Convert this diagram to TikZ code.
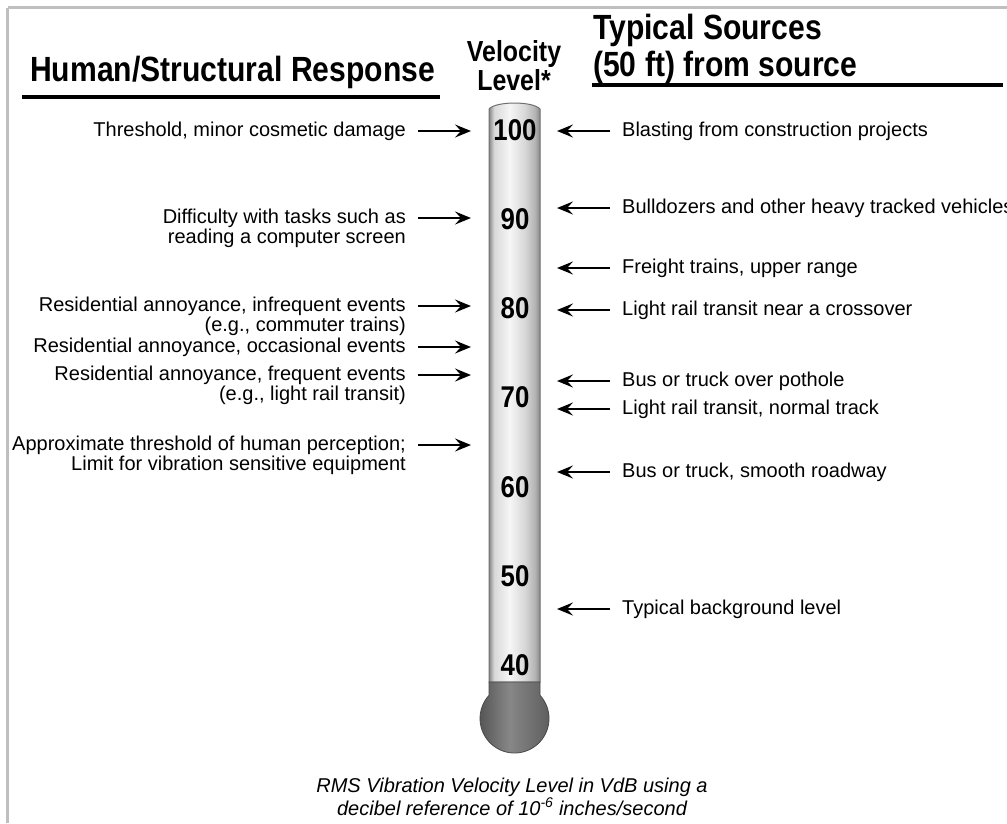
\documentclass[tikz,border=0pt]{standalone}
\usepackage{fontspec}
\setmainfont{Liberation Sans}
\newfontfamily\hdfont[FakeStretch=0.86]{Liberation Sans}
\usetikzlibrary{arrows.meta}
\definecolor{framegray}{HTML}{BFBFBF}
\definecolor{tubeedge}{HTML}{707070}
\definecolor{bulbedge}{HTML}{4A4A4A}
\definecolor{tA}{HTML}{888888}
\definecolor{tB}{HTML}{D8D8D8}
\definecolor{tC}{HTML}{F6F6F6}
\definecolor{tD}{HTML}{B4B4B4}
\definecolor{bA}{HTML}{505050}
\definecolor{bB}{HTML}{878787}
\definecolor{bC}{HTML}{5C5C5C}
\pgfdeclarehorizontalshading{tubeshade}{100bp}{color(0bp)=(tA); color(25bp)=(tA); color(30bp)=(tB); color(45bp)=(tC); color(60bp)=(tB); color(70bp)=(tD); color(75bp)=(tA); color(100bp)=(tA)}
\pgfdeclarehorizontalshading{bulbshade}{100bp}{color(0bp)=(bA); color(25bp)=(bA); color(47bp)=(bB); color(75bp)=(bC); color(100bp)=(bC)}
\begin{document}
\begin{tikzpicture}[x=1pt,y=-1pt,
  lft/.style={font=\fontsize{20}{20.5}\selectfont, align=right, anchor=base east, inner sep=0pt},
  rgt/.style={font=\fontsize{20}{20.5}\selectfont, align=left, anchor=base west, inner sep=0pt},
  arr/.style={line width=2pt, -{Stealth[length=16pt,width=13pt,inset=6pt]}},
  num/.style={font=\hdfont\bfseries\fontsize{30}{30}\selectfont, anchor=base, inner sep=0pt},
  hd/.style={font=\hdfont\bfseries\fontsize{35}{37}\selectfont, inner sep=0pt},
  vl/.style={font=\hdfont\bfseries\fontsize{29}{25}\selectfont, inner sep=0pt, align=center},
  uline/.style={line width=4.5pt},
  frame/.style={draw=framegray, line width=3.5pt},
]
\useasboundingbox (0,0) rectangle (1007,823);
% frame
\draw[frame] (7.5,7.5) -- (1007,7.5);
\draw[frame] (7.5,7.5) -- (7.5,823);

% headings (base anchor of a multi-line node = baseline of its last line)
\node[hd, anchor=base west] (hleft) at (30,81) {Human/Structural Response};
\node[hd, anchor=base west, align=left] (hright) at (593,76) {Typical Sources\\(50 ft) from source};
\node[vl, anchor=base] (vel) at (514,90) {Velocity\\Level*};
\coordinate (ul1) at (22,97);
\coordinate (ul2) at (440,97);
\coordinate (ur1) at (592,85);
\coordinate (ur2) at (1003,85);
\draw[uline] (ul1) -- (ul2);
\draw[uline] (ur1) -- (ur2);

% thermometer
\shadedraw[shading=tubeshade, draw=tubeedge, line width=1pt]
  (489,682) -- (489,109) .. controls (496,101) and (533,101) .. (540,109) -- (540,682) -- cycle;
\shadedraw[shading=bulbshade, draw=bulbedge, line width=0.8pt]
  (489,682) -- (489,695.3) arc[start angle=222.3, end angle=-42.3, radius=34.5] -- (540,682) -- cycle;

\node[num] (n100) at (515,140) {100};
\node[num] (n90) at (515,229) {90};
\node[num] (n80) at (515,318) {80};
\node[num] (n70) at (515,407.5) {70};
\node[num] (n60) at (515,497) {60};
\node[num] (n50) at (515,586) {50};
\node[num] (n40) at (515,675) {40};

% left labels
\node[lft] (l1) at (406,136) {Threshold, minor cosmetic damage};
\node[lft] (l2) at (406,243.5) {Difficulty with tasks such as\\reading a computer screen};
\node[lft] (l3) at (406,331.5) {Residential annoyance, infrequent events\\(e.g., commuter trains)};
\node[lft] (l4) at (406,352) {Residential annoyance, occasional events};
\node[lft] (l5) at (406,400.5) {Residential annoyance, frequent events\\(e.g., light rail transit)};
\node[lft] (l6) at (406,470.5) {Approximate threshold of human perception;\\Limit for vibration sensitive equipment};

\foreach \i/\y in {1/131,2/218,3/306,4/347,5/375,6/445}{
  \coordinate (la\i) at (418,\y);
  \coordinate (lb\i) at (471,\y);
  \draw[arr] (la\i) -- (lb\i);
}

% right labels
\node[rgt] (r1) at (622,136) {Blasting from construction projects};
\node[rgt] (r2) at (622,213) {Bulldozers and other heavy tracked vehicles};
\node[rgt] (r3) at (622,273) {Freight trains, upper range};
\node[rgt] (r4) at (622,315) {Light rail transit near a crossover};
\node[rgt] (r5) at (622,386) {Bus or truck over pothole};
\node[rgt] (r6) at (622,414) {Light rail transit, normal track};
\node[rgt] (r7) at (622,477) {Bus or truck, smooth roadway};
\node[rgt] (r8) at (622,614) {Typical background level};

\foreach \i/\y in {1/131,2/208,3/268,4/310,5/381,6/409,7/472,8/609}{
  \coordinate (ra\i) at (610,\y);
  \coordinate (rb\i) at (557,\y);
  \draw[arr] (ra\i) -- (rb\i);
}

% caption
\node[font=\itshape\fontsize{20}{23}\selectfont, align=center, anchor=base, inner sep=0pt] (cap) at (512,815)
  {RMS Vibration Velocity Level in VdB using a\\decibel reference of 10\textsuperscript{-6} inches/second};
\end{tikzpicture}
\end{document}
